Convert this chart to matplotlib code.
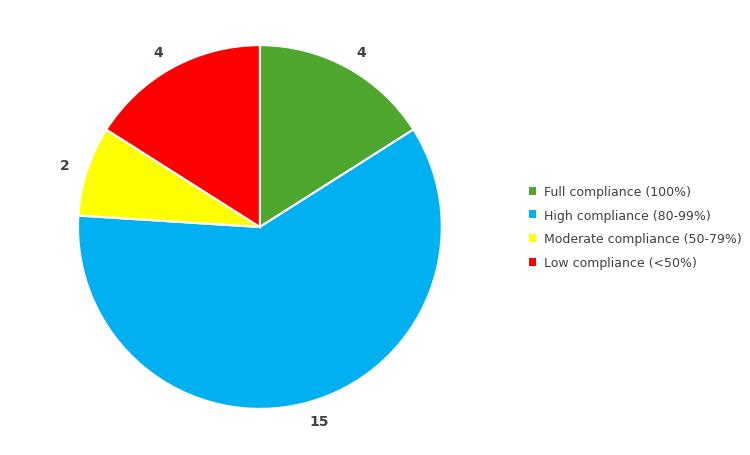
import matplotlib
matplotlib.use("Agg")
import matplotlib.pyplot as plt
from matplotlib.patches import Patch

categories = ["Full compliance (100%)", "High compliance (80-99%)",
              "Moderate compliance (50-79%)", "Low compliance (<50%)"]
values = [4, 15, 2, 4]
colors = ["#4EA72E", "#00B0F0", "#FFFF00", "#FF0000"]

fig = plt.figure(figsize=(7.5, 4.56), dpi=100)
ax = fig.add_axes([0.104, 0.101, 0.485, 0.798])
ax.pie(values, colors=colors, startangle=90, counterclock=False,
       labels=[str(v) for v in values], labeldistance=1.1,
       wedgeprops=dict(edgecolor="white", linewidth=1.5),
       textprops=dict(fontsize=10, fontweight="bold", color="#404040"))
ax.set_aspect("equal")
ax.set_xlim(-1, 1)
ax.set_ylim(-1, 1)
handles = [Patch(facecolor=c, label=l) for c, l in zip(colors, categories)]
fig.legend(handles=handles, loc="center left", bbox_to_anchor=(0.69, 0.5),
           frameon=False, fontsize=9, handlelength=0.6, handleheight=0.6,
           labelspacing=0.85, handletextpad=0.6, labelcolor="#404040")
fig.savefig("out.png", dpi=100)
